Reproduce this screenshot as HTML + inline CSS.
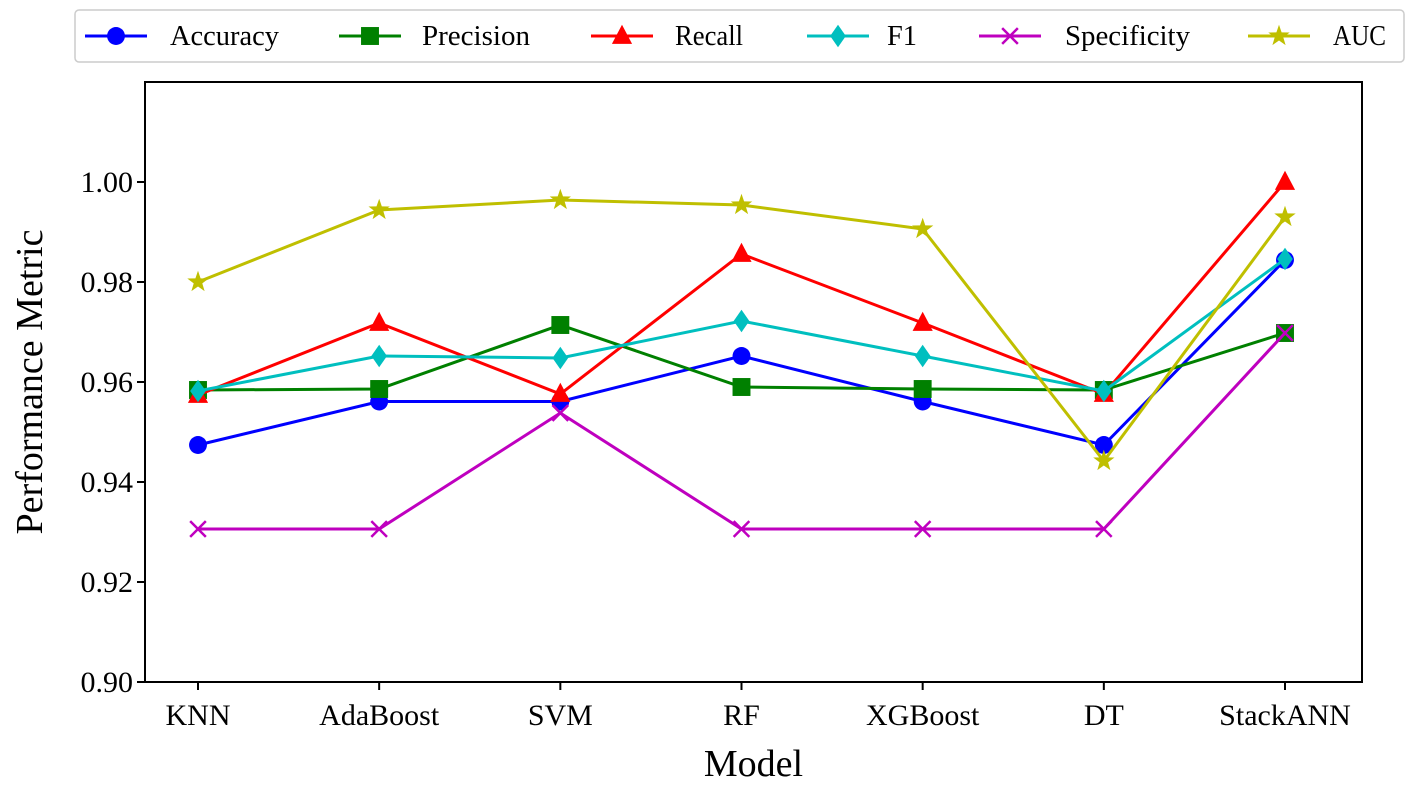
<!DOCTYPE html>
<html><head><meta charset="utf-8"><style>
body{margin:0;background:#fff}
svg text{font-family:"Liberation Serif",serif;fill:#000}
</style></head><body>
<svg width="1418" height="784" xmlns="http://www.w3.org/2000/svg">
<g id="legend"></g>
<g id="plot"></g>
</svg>
<script>
const categories=["KNN","AdaBoost","SVM","RF","XGBoost","DT","StackANN"];
const accuracy=[0.9474,0.9561,0.9561,0.9652,0.9561,0.9474,0.9844];
const precision=[0.9584,0.9586,0.9714,0.9590,0.9586,0.9584,0.9698];
const recall=[0.9574,0.9718,0.9576,0.9856,0.9718,0.9576,1.0];
const f1=[0.9582,0.9652,0.9648,0.9722,0.9652,0.9582,0.9846];
const specificity=[0.9306,0.9306,0.9538,0.9306,0.9306,0.9306,0.9698];
const auc=[0.9800,0.9944,0.9964,0.9954,0.9906,0.9442,0.9930];
const yTicks=[0.90,0.92,0.94,0.96,0.98,1.00];
const seriesNames=["Accuracy","Precision","Recall","F1","Specificity","AUC"];
const seriesData=[accuracy,precision,recall,f1,specificity,auc];
const colors=["#0000ff","#008000","#ff0000","#00bfbf","#bf00bf","#bfbf00"];
const markers=["circle","square","triangle","diamond","x","star"];
const NS="http://www.w3.org/2000/svg";
const L=145,R=1362,T=82,B=682,YMIN=0.90,YMAX=1.02;
const xs=i=>198+i*(1285-198)/(categories.length-1);
const ys=v=>B-(v-YMIN)/(YMAX-YMIN)*(B-T);
function mk(tag,attrs,parent){const e=document.createElementNS(NS,tag);for(const k in attrs)e.setAttribute(k,attrs[k]);parent.appendChild(e);return e;}
const plot=document.getElementById('plot');
function marker(type,x,y,c,p,s){
 s=s||1.12;let e;
 if(type==="circle")e=mk('circle',{cx:x,cy:y,r:8*s,fill:c},p);
 else if(type==="square")e=mk('rect',{x:x-8*s,y:y-8*s,width:16*s,height:16*s,fill:c},p);
 else if(type==="triangle")e=mk('polygon',{points:`${x},${y-10*s} ${x-9*s},${y+7*s} ${x+9*s},${y+7*s}`,fill:c},p);
 else if(type==="diamond")e=mk('polygon',{points:`${x},${y-10*s} ${x+7*s},${y} ${x},${y+10*s} ${x-7*s},${y}`,fill:c},p);
 else if(type==="x")e=mk('path',{d:`M${x-7*s},${y-7*s}L${x+7*s},${y+7*s}M${x-7*s},${y+7*s}L${x+7*s},${y-7*s}`,stroke:c,'stroke-width':2.5,fill:'none'},p);
 else{let pts=[];for(let k=0;k<10;k++){const r=k%2?4*s:10*s,a=-Math.PI/2+k*Math.PI/5;pts.push((x+r*Math.cos(a)).toFixed(1)+','+(y+r*Math.sin(a)).toFixed(1));}e=mk('polygon',{points:pts.join(' '),fill:c},p);}
 return e;
}
const frame=mk('rect',{x:L,y:T,width:R-L,height:B-T,fill:'none',stroke:'#000','stroke-width':2},plot);


yTicks.forEach(v=>{
 const y=ys(v);
 const t=mk('line',{x1:L-8,x2:L,y1:y,y2:y,stroke:'#000','stroke-width':2},plot);
 
 
 const tx=mk('text',{x:L-12,y:y+10,'text-anchor':'end','font-size':30},plot);tx.textContent=v.toFixed(2);
 
 
});
categories.forEach((c,i)=>{
 const x=xs(i);
 const t=mk('line',{x1:x,x2:x,y1:B,y2:B+8,stroke:'#000','stroke-width':2},plot);
 
 
 const tx=mk('text',{x:x,y:B+43,'text-anchor':'middle','font-size':30},plot);tx.textContent=c;
 
 
});
const xt=mk('text',{x:(L+R)/2,y:776,'text-anchor':'middle','font-size':38},plot);xt.textContent="Model";


const yt=mk('text',{x:0,y:0,'text-anchor':'middle','font-size':38,transform:`translate(42,${(T+B)/2}) rotate(-90)`},plot);yt.textContent="Performance Metric";


seriesData.forEach((d,si)=>{
 const g=mk('g',{},plot);
 
 
 const line=mk('polyline',{points:d.map((v,i)=>xs(i)+','+ys(v)).join(' '),fill:'none',stroke:colors[si],'stroke-width':3},g);
 
 
 d.forEach((v,i)=>{
  const m=marker(markers[si],xs(i),ys(v),colors[si],g);
  
  
 });
});
const lg=document.getElementById('legend');
const lb=mk('rect',{x:75,y:10,width:1329,height:52,rx:4,fill:'#fff',stroke:'#ccc','stroke-width':1.5},lg);


const lm=[116,370,622,838,1010,1279];
const ltx=[170,422,675,887,1065,1333];
const lw=[109,108,68,30,125,53];
seriesNames.forEach((n,i)=>{
 const g=mk('g',{},lg);
 
 
 mk('line',{x1:lm[i]-31,x2:lm[i]+31,y1:36,y2:36,stroke:colors[i],'stroke-width':3},g);
 marker(markers[i],lm[i],36,colors[i],g);
 const t=mk('text',{x:ltx[i],y:45,'font-size':28,textLength:lw[i],lengthAdjust:'spacingAndGlyphs'},g);t.textContent=n;
});
</script>
</body></html>
